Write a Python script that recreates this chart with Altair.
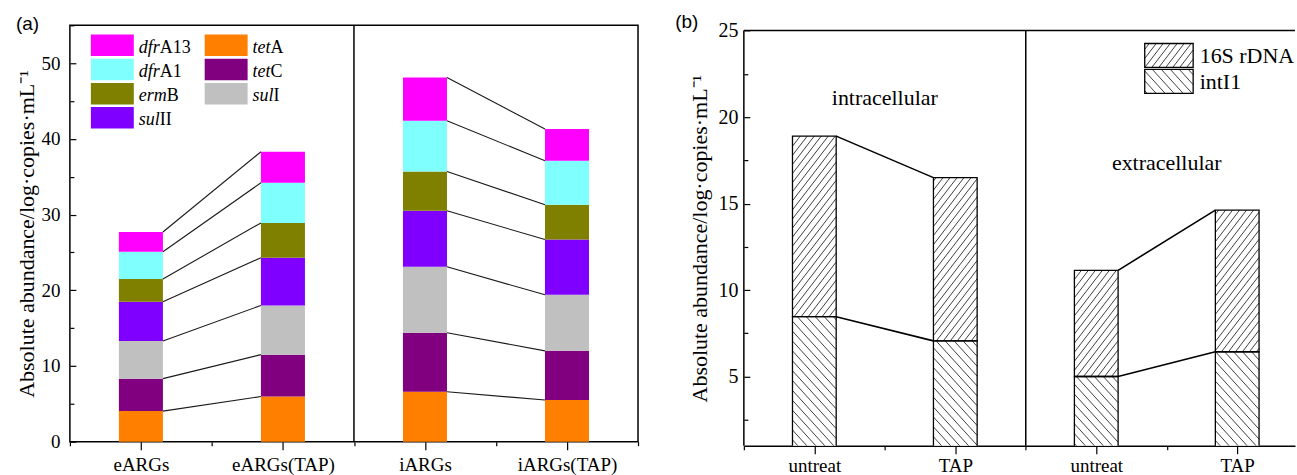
import re
import altair as alt
import numpy as np
import pandas as pd

# ---------------- data: panel (a) ----------------
samples_a = ["eARGs", "eARGs(TAP)", "iARGs", "iARGs(TAP)"]
genes = ["tetA", "tetC", "sulI", "sulII", "ermB", "dfrA1", "dfrA13"]  # bottom -> top
gene_colors = ["#FF8000", "#800080", "#C0C0C0", "#8000FF", "#808000", "#80FFFF", "#FF00FF"]
abund_eARGs = [4.04, 4.29, 4.97, 5.20, 3.00, 3.60, 2.60]
abund_eARGs_TAP = [5.96, 5.54, 6.50, 6.30, 4.60, 5.30, 4.10]
abund_iARGs = [6.60, 7.80, 8.70, 7.40, 5.20, 6.70, 5.70]
abund_iARGs_TAP = [5.50, 6.50, 7.40, 7.30, 4.60, 5.80, 4.20]
legend_col1 = ["dfrA13", "dfrA1", "ermB", "sulII"]
legend_col2 = ["tetA", "tetC", "sulI"]

# ---------------- data: panel (b) ----------------
groups_b = ["untreat", "TAP", "untreat", "TAP"]
compartments = ["intracellular", "extracellular"]
compartment_label_y = [21.1, 17.36]
parts_b = ["intI1", "16S rDNA"]  # bottom -> top
intI1 = [8.46, 7.06, 5.00, 6.43]
rDNA16S = [10.44, 9.44, 6.14, 8.19]  # stacked on top of intI1

# ---------------- layout / style ----------------
SERIF = "Liberation Serif"
SANS = "Liberation Sans"
W_A, H_A = 569, 417
XDOM_A, YDOM_A = [0.5, 4.5], [0, 55]
W_B, H_B = 552, 421
B_TOP = 5.3                     # panel (b) frame starts a little below the view top
YMIN_B, YMAX_B = 1, 25
KY_B = (H_B - B_TOP) / (YMAX_B - YMIN_B)
XDOM_B = [0.5, 4.41]
YDOM_B = [YMIN_B, YMAX_B + B_TOP / KY_B]
KX_B = W_B / (XDOM_B[1] - XDOM_B[0])
BW = 0.31
TITLE = "Absolute abundance/log·copies·mL⁻¹"

ITALIC_W = {"d": 0.5, "f": 0.278, "r": 0.389, "t": 0.278, "e": 0.444, "m": 0.722,
            "s": 0.389, "u": 0.5, "l": 0.278}


def label_expr(names):
    arr = "[" + ",".join("'" + n + "'" for n in names) + "]"
    return f"{arr}[round(datum.value) - 1]"


def hatch(u0, u1, v0, v1, step, m, direction):
    segs = []
    if direction > 0:  # '/'  : u - v/m = c
        cmin, cmax = u0 - v1 / m, u1 - v0 / m
    else:              # '\\' : u + v/m = c
        cmin, cmax = u0 + v0 / m, u1 + v1 / m
    for k in range(int(np.ceil(cmin / step)), int(np.floor(cmax / step)) + 1):
        c = k * step
        if direction > 0:
            vlo, vhi = max(v0, m * (u0 - c)), min(v1, m * (u1 - c))
            if vhi - vlo > 0.3:
                segs.append((c + vlo / m, vlo, c + vhi / m, vhi))
        else:
            vlo, vhi = max(v0, m * (c - u1)), min(v1, m * (c - u0))
            if vhi - vlo > 0.3:
                segs.append((c - vlo / m, vlo, c - vhi / m, vhi))
    return segs


HATCH = {"16S rDNA": (7.0, 1.3, 1), "intI1": (9.0, 1.1, -1)}


def tick_layers(xsc, ysc, width, xmin_, ymaj, ymin_):
    """Invisible layers that carry extra axes: minor x ticks, inward y ticks."""
    d = pd.DataFrame({"x": [xmin_[0]], "y": [ymaj[0]]})
    lay_xminor = alt.Chart(d).mark_point(opacity=0).encode(
        x=alt.X("x:Q", scale=xsc, axis=alt.Axis(
            orient="bottom", values=xmin_, labels=False, domain=False, tickSize=4,
            tickWidth=1.2, title=None, grid=False)),
        y=alt.Y("y:Q", scale=ysc, axis=alt.Axis(
            orient="right", offset=-width, values=ymaj, labels=False, domain=False,
            tickSize=6, tickWidth=1.2, title=None, grid=False)))
    lay_yminor = alt.Chart(d).mark_point(opacity=0).encode(
        x=alt.X("x:Q", scale=xsc, axis=None),
        y=alt.Y("y:Q", scale=ysc, axis=alt.Axis(
            orient="right", offset=-width, values=ymin_, labels=False, domain=False,
            tickSize=4, tickWidth=1.2, title=None, grid=False)))
    return [lay_xminor, lay_yminor]


# ---------------- panel (a) ----------------
rows = []
series_a = [abund_eARGs, abund_eARGs_TAP, abund_iARGs, abund_iARGs_TAP]
for i, (s, vals) in enumerate(zip(samples_a, series_a)):
    for k, (g, v) in enumerate(zip(genes, vals)):
        rows.append(dict(sample=s, pos=i + 1, gene=g, ord=k, value=v))
df_a = pd.DataFrame(rows)

link_rows = []
for i in (0, 2):
    ta, tb = np.cumsum(series_a[i]), np.cumsum(series_a[i + 1])
    for k in range(len(genes)):
        link_rows.append(dict(xa=i + 1 + BW / 2, xb=i + 2 - BW / 2, ya=ta[k], yb=tb[k]))
df_link_a = pd.DataFrame(link_rows)

xsc_a = alt.Scale(domain=XDOM_A, nice=False, zero=False)
ysc_a = alt.Scale(domain=YDOM_A, nice=False, zero=False)
color_a = alt.Color("gene:N", scale=alt.Scale(domain=genes, range=gene_colors), legend=None)

xaxis_a = alt.Axis(
    orient="bottom", values=[1, 2, 3, 4], labelExpr=label_expr(samples_a),
    tickSize=8, tickWidth=1.2, labelPadding=6, labelFontSize=19, domain=False, title=None,
    labelOverlap=False, labelFlush=False, grid=False)
yaxis_a = alt.Axis(
    orient="left", values=[0, 10, 20, 30, 40, 50], ticks=False, tickSize=0, labelPadding=10,
    labelFontSize=19, domain=False, grid=False, title=TITLE, titleFontSize=22,
    titleX=-36, titleY=H_A / 2, titleAngle=270, titleAlign="center", titleBaseline="alphabetic")

bars_a = alt.Chart(df_a).transform_stack(
    stack="value", groupby=["pos"], as_=["y0", "y1"],
    sort=[alt.SortField(field="ord", order="ascending")]
).transform_calculate(
    xl=f"datum.pos - {BW / 2}", xr=f"datum.pos + {BW / 2}"
).mark_rect().encode(
    x=alt.X("xl:Q", scale=xsc_a, axis=xaxis_a), x2="xr:Q",
    y=alt.Y("y0:Q", scale=ysc_a, axis=yaxis_a), y2="y1:Q",
    color=color_a,
)

links_a = alt.Chart(df_link_a).mark_rule(color="#1a1a1a", strokeWidth=1.1).encode(
    x=alt.X("xa:Q", scale=xsc_a, axis=None), x2="xb:Q",
    y=alt.Y("ya:Q", scale=ysc_a, axis=None), y2="yb:Q",
)

div_a = alt.Chart(pd.DataFrame({"x": [(len(samples_a) + 1) / 2]})).mark_rule(
    color="black", strokeWidth=1.5).encode(
    x=alt.X("x:Q", scale=xsc_a, axis=None), y=alt.value(0), y2=alt.value(H_A))

# legend (a)
LEG_A_X, LEG_A_Y, LEG_A_DX, LEG_A_DY = 21, 9.3, 114, 24.2
SW_W, SW_H, TXT_DX, TXT_DY, FS_LEG_A = 43, 21.5, 48, 18.4, 18
leg_rows = []
for col, names in enumerate([legend_col1, legend_col2]):
    for row, g in enumerate(names):
        ital = re.match(r"[a-z]+", g).group(0)
        rest = g[len(ital):]
        x0 = LEG_A_X + col * LEG_A_DX
        y0 = LEG_A_Y + row * LEG_A_DY
        leg_rows.append(dict(gene=g, ital=ital, rest=rest, x0=x0, x1=x0 + SW_W, y0=y0, y1=y0 + SW_H,
                             tx=x0 + TXT_DX,
                             tx2=x0 + TXT_DX + sum(ITALIC_W[c] for c in ital) * FS_LEG_A,
                             ty=y0 + TXT_DY))
df_leg_a = pd.DataFrame(leg_rows)
leg_a_rect = alt.Chart(df_leg_a).mark_rect().encode(
    x=alt.X("x0:Q", scale=None, axis=None), x2="x1:Q",
    y=alt.Y("y0:Q", scale=None, axis=None), y2="y1:Q", color=color_a)
leg_a_it = alt.Chart(df_leg_a).mark_text(
    font=SERIF, fontSize=FS_LEG_A, fontStyle="italic", align="left", baseline="alphabetic",
    color="black").encode(
    x=alt.X("tx:Q", scale=None, axis=None), y=alt.Y("ty:Q", scale=None, axis=None), text="ital:N")
leg_a_up = alt.Chart(df_leg_a).mark_text(
    font=SERIF, fontSize=FS_LEG_A, align="left", baseline="alphabetic", color="black").encode(
    x=alt.X("tx2:Q", scale=None, axis=None), y=alt.Y("ty:Q", scale=None, axis=None), text="rest:N")

tag_a = alt.Chart(pd.DataFrame({"t": ["(a)"]})).mark_text(
    font=SANS, fontSize=19, align="left", baseline="top", color="black").encode(
    text="t:N", x=alt.value(-54), y=alt.value(-10))

ticks_a = tick_layers(xsc_a, ysc_a, W_A, [0.5, 1.5, 2.5, 3.5, 4.5],
                      list(range(0, 51, 10)), list(range(5, 56, 10)))

panel_a = alt.layer(
    bars_a, *ticks_a, links_a, div_a, leg_a_rect, leg_a_it, leg_a_up, tag_a
).resolve_axis(x="independent", y="independent").properties(
    width=W_A, height=H_A, view=alt.ViewBackground(stroke="black", strokeWidth=1.5))

# ---------------- panel (b) ----------------
rows = []
for i, g in enumerate(groups_b):
    rows.append(dict(pos=i + 1, part="intI1", ord=0, value=intI1[i]))
    rows.append(dict(pos=i + 1, part="16S rDNA", ord=1, value=rDNA16S[i]))
df_b = pd.DataFrame(rows)

hrows = []
for i in range(len(groups_b)):
    bottoms = {"intI1": 0.0, "16S rDNA": intI1[i]}
    tops = {"intI1": intI1[i], "16S rDNA": intI1[i] + rDNA16S[i]}
    for p in parts_b:
        lo = max(bottoms[p], YDOM_B[0])
        u0 = (i + 1 - BW / 2 - XDOM_B[0]) * KX_B
        u1 = (i + 1 + BW / 2 - XDOM_B[0]) * KX_B
        v0 = (lo - YDOM_B[0]) * KY_B
        v1 = (tops[p] - YDOM_B[0]) * KY_B
        step, m, d = HATCH[p]
        for (ua, va, ub, vb) in hatch(u0, u1, v0, v1, step, m, d):
            hrows.append(dict(xa=XDOM_B[0] + ua / KX_B, ya=YDOM_B[0] + va / KY_B,
                              xb=XDOM_B[0] + ub / KX_B, yb=YDOM_B[0] + vb / KY_B))
df_hatch_b = pd.DataFrame(hrows)

link_rows = []
for i in (0, 2):
    lv_a = [intI1[i], intI1[i] + rDNA16S[i]]
    lv_b = [intI1[i + 1], intI1[i + 1] + rDNA16S[i + 1]]
    for a, b in zip(lv_a, lv_b):
        link_rows.append(dict(xa=i + 1 + BW / 2, xb=i + 2 - BW / 2, ya=a, yb=b))
df_link_b = pd.DataFrame(link_rows)

xsc_b = alt.Scale(domain=XDOM_B, nice=False, zero=False)
ysc_b = alt.Scale(domain=YDOM_B, nice=False, zero=False)

xaxis_b = alt.Axis(
    orient="bottom", values=[1, 2, 3, 4], labelExpr=label_expr(groups_b),
    tickSize=8, tickWidth=1.2, labelPadding=3, labelFontSize=19, domain=True, domainWidth=1.5,
    title=None, labelOverlap=False, labelFlush=False, grid=False)
yaxis_b = alt.Axis(
    orient="left", values=[5, 10, 15, 20, 25], ticks=False, tickSize=0, labelPadding=6,
    labelFontSize=20, domain=False, grid=False, title=TITLE,
    titleFontSize=22, titleX=-37, titleY=(H_B + B_TOP) / 2, titleAngle=270, titleAlign="center",
    titleBaseline="alphabetic")

base_b = alt.Chart(df_b).transform_stack(
    stack="value", groupby=["pos"], as_=["y0", "y1"],
    sort=[alt.SortField(field="ord", order="ascending")]
).transform_calculate(
    xl=f"datum.pos - {BW / 2}", xr=f"datum.pos + {BW / 2}"
)
bars_b = base_b.mark_rect(clip=True, fill="white").encode(
    x=alt.X("xl:Q", scale=xsc_b, axis=xaxis_b), x2="xr:Q",
    y=alt.Y("y0:Q", scale=ysc_b, axis=yaxis_b), y2="y1:Q")
hatch_b = alt.Chart(df_hatch_b).mark_rule(color="#2a2a2a", strokeWidth=0.9).encode(
    x=alt.X("xa:Q", scale=xsc_b, axis=None), x2="xb:Q",
    y=alt.Y("ya:Q", scale=ysc_b, axis=None), y2="yb:Q")
outline_b = base_b.mark_rect(clip=True, fillOpacity=0, stroke="black", strokeWidth=1.3).encode(
    x=alt.X("xl:Q", scale=xsc_b, axis=None), x2="xr:Q",
    y=alt.Y("y0:Q", scale=ysc_b, axis=None), y2="y1:Q")
links_b = alt.Chart(df_link_b).mark_rule(color="black", strokeWidth=1.6).encode(
    x=alt.X("xa:Q", scale=xsc_b, axis=None), x2="xb:Q",
    y=alt.Y("ya:Q", scale=ysc_b, axis=None), y2="yb:Q")
div_b = alt.Chart(pd.DataFrame({"x": [(len(groups_b) + 1) / 2]})).mark_rule(
    color="black", strokeWidth=1.5).encode(
    x=alt.X("x:Q", scale=xsc_b, axis=None), y=alt.value(B_TOP), y2=alt.value(H_B))
frame_top_b = alt.Chart(pd.DataFrame({"s": ["top"]})).mark_rule(
    color="black", strokeWidth=1.5).encode(
    x=alt.value(0), x2=alt.value(W_B), y=alt.value(B_TOP))
frame_left_b = alt.Chart(pd.DataFrame({"s": ["left"]})).mark_rule(
    color="black", strokeWidth=1.5).encode(
    x=alt.value(0), y=alt.value(B_TOP), y2=alt.value(H_B))
ann_b = alt.Chart(pd.DataFrame({"t": compartments, "x": [1.5, 3.5], "y": compartment_label_y})).mark_text(
    font=SERIF, fontSize=22, align="center", baseline="middle", color="black").encode(
    x=alt.X("x:Q", scale=xsc_b, axis=None), y=alt.Y("y:Q", scale=ysc_b, axis=None), text="t:N")

# legend (b)
LEG_B_X0, LEG_B_X1 = 401.5, 450
LEG_B_Y = [12.9 + B_TOP, 38.9 + B_TOP]
LEG_B_H = 24
legend_b_order = ["16S rDNA", "intI1"]
lrows, lh = [], []
for p, y0 in zip(legend_b_order, LEG_B_Y):
    lrows.append(dict(t=p, x0=LEG_B_X0, x1=LEG_B_X1, y0=y0, y1=y0 + LEG_B_H,
                      tx=LEG_B_X1 + 6.5, ty=y0 + LEG_B_H - 4.5))
    step, m, d = HATCH[p]
    for (ua, va, ub, vb) in hatch(LEG_B_X0, LEG_B_X1, -(y0 + LEG_B_H), -y0, step, m, d):
        lh.append(dict(xa=ua, ya=-va, xb=ub, yb=-vb))
df_leg_b = pd.DataFrame(lrows)
df_leg_bh = pd.DataFrame(lh)
leg_b_fill = alt.Chart(df_leg_b).mark_rect(fill="white").encode(
    x=alt.X("x0:Q", scale=None, axis=None), x2="x1:Q",
    y=alt.Y("y0:Q", scale=None, axis=None), y2="y1:Q")
leg_b_hatch = alt.Chart(df_leg_bh).mark_rule(color="#2a2a2a", strokeWidth=0.9).encode(
    x=alt.X("xa:Q", scale=None, axis=None), x2="xb:Q",
    y=alt.Y("ya:Q", scale=None, axis=None), y2="yb:Q")
leg_b_out = alt.Chart(df_leg_b).mark_rect(fillOpacity=0, stroke="black", strokeWidth=1.3).encode(
    x=alt.X("x0:Q", scale=None, axis=None), x2="x1:Q",
    y=alt.Y("y0:Q", scale=None, axis=None), y2="y1:Q")
leg_b_txt = alt.Chart(df_leg_b).mark_text(
    font=SERIF, fontSize=22, align="left", baseline="alphabetic", color="black").encode(
    x=alt.X("tx:Q", scale=None, axis=None), y=alt.Y("ty:Q", scale=None, axis=None), text="t:N")

tag_b = alt.Chart(pd.DataFrame({"t": ["(b)"]})).mark_text(
    font=SANS, fontSize=19, align="left", baseline="top", color="black").encode(
    text="t:N", x=alt.value(-68.7), y=alt.value(-12))

ticks_b = tick_layers(xsc_b, ysc_b, W_B, [0.5, 1.5, 2.5, 3.5],
                      [5, 10, 15, 20, 25], [2.5, 7.5, 12.5, 17.5, 22.5])

panel_b = alt.layer(
    bars_b, *ticks_b, hatch_b, outline_b, links_b, div_b, frame_top_b, frame_left_b, ann_b,
    leg_b_fill, leg_b_hatch, leg_b_out, leg_b_txt, tag_b
).resolve_axis(x="independent", y="independent").properties(
    width=W_B, height=H_B, view=alt.ViewBackground(stroke="transparent"))

chart = alt.hconcat(panel_a, panel_b, spacing=34).properties(
    padding={"left": 15, "top": 12, "right": 0, "bottom": 0}, background="white"
).configure_view(stroke="transparent").configure_axis(
    labelFont=SERIF, titleFont=SERIF, labelColor="black", titleColor="black",
    tickColor="black", domainColor="black", titleFontWeight="normal", grid=False
)

chart.save("out.html", embed_options={"renderer": "svg", "actions": False})
